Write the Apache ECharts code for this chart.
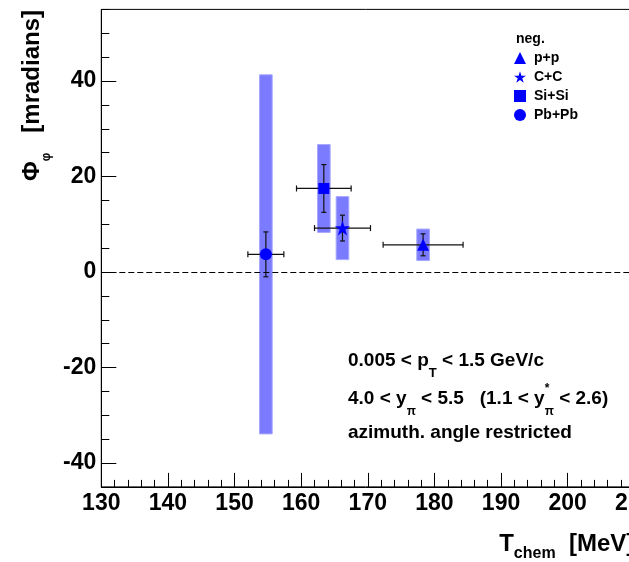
<!DOCTYPE html>
<html><head><meta charset="utf-8">
<script src="https://cdn.jsdelivr.net/npm/echarts@6/dist/echarts.min.js"></script>
<style>html,body{margin:0;padding:0;background:#fff}#c{width:629px;height:562px}</style>
</head><body><div id="c"></div>
<script>
// ---- data ----
const systems = ['p+p', 'C+C', 'Si+Si', 'Pb+Pb'];
const tchem = [178.3, 166.2, 163.4, 154.7];      // T_chem [MeV]
const tchemErr = [6.0, 4.2, 4.1, 2.7];           // horizontal error
const phi = [5.7, 9.2, 17.5, 3.7];               // Phi_phi [mrad]
const phiStat = [2.3, 2.7, 5.0, 4.7];            // statistical error
const phiSys = [3.3, 6.6, 9.2, 37.6];            // systematic error (box)
const yMajorTicks = [-40, -20, 0, 20, 40];
const legendHeader = 'neg.';
const annotations = ['0.005 < p_T < 1.5 GeV/c', '4.0 < y_π < 5.5   (1.1 < y*_π < 2.6)', 'azimuth. angle restricted'];

// ---- styles ----
const FONT = '"Liberation Sans", Arial, Helvetica, sans-serif';
const BLUE = '#0000ff';
const BOX_FILL = '#7b7bff';
const BOX_HALF_WIDTH = 0.95;
const STAR = 'path://M50,0 L61.2,34.5 L97.6,34.5 L68.2,55.9 L79.4,90.5 L50,69.1 L20.6,90.5 L31.8,55.9 L2.4,34.5 L38.8,34.5 Z';
const symbols = ['triangle', STAR, 'rect', 'circle'];
const symbolSizes = [12, 15, 11, 12];

const boxData = systems.map((s, i) => [tchem[i], phi[i], phiSys[i]]);
const errData = systems.map((s, i) => [tchem[i], phi[i], tchemErr[i], phiStat[i]]);

function renderBox(params, api) {
  const x = api.value(0), y = api.value(1), s = api.value(2);
  const p1 = api.coord([x - BOX_HALF_WIDTH, y + s]);
  const p2 = api.coord([x + BOX_HALF_WIDTH, y - s]);
  return { type: 'rect', shape: { x: p1[0], y: p1[1], width: p2[0] - p1[0], height: p2[1] - p1[1] },
    style: { fill: BOX_FILL, stroke: '#a8a8ff', lineWidth: 1 } };
}
function renderErr(params, api) {
  const x = api.value(0), y = api.value(1), ex = api.value(2), ey = api.value(3);
  const l = api.coord([x - ex, y]), r = api.coord([x + ex, y]);
  const t = api.coord([x, y + ey]), b = api.coord([x, y - ey]);
  const st = { stroke: '#111', lineWidth: 1.2 };
  const CH = 3, CV = 2.5;
  const ln = (x1, y1, x2, y2) => ({ type: 'line', shape: { x1, y1, x2, y2 }, style: st });
  return { type: 'group', children: [
    ln(l[0], l[1], r[0], r[1]),
    ln(l[0], l[1] - CH, l[0], l[1] + CH),
    ln(r[0], r[1] - CH, r[0], r[1] + CH),
    ln(t[0], t[1], b[0], b[1]),
    ln(t[0] - CV, t[1], t[0] + CV, t[1]),
    ln(b[0] - CV, b[1], b[0] + CV, b[1])
  ] };
}

const axisLineStyle = { color: '#000', width: 1 };
const labelStyle = { fontSize: 23, fontWeight: 'bold', fontFamily: FONT, color: '#000' };
const TXT = 19;

const option = {
  backgroundColor: '#fff',
  animation: false,
  title: { text: legendHeader, left: 516, top: 32, padding: 0,
    textStyle: { fontSize: 14, fontWeight: 'bold', fontFamily: FONT, color: '#000' } },
  legend: {
    orient: 'vertical', left: 514, top: 51, padding: 0,
    itemWidth: 12, itemHeight: 12, itemGap: 5, selectedMode: false,
    data: systems.map((n, i) => ({ name: n, icon: symbols[i] })),
    textStyle: { fontSize: 14, fontWeight: 'bold', fontFamily: FONT, color: '#000', lineHeight: 14, padding: [0, 0, 0, 3] }
  },
  grid: { left: 101.3, top: 9.4, right: -5.3, bottom: 75.1, containLabel: false, outerBoundsMode: 'none',
    show: true, borderColor: '#000', borderWidth: 1, backgroundColor: 'transparent' },
  xAxis: [{
    type: 'value', min: 130, max: 210, interval: 10,
    axisLine: { onZero: false, lineStyle: axisLineStyle },
    axisTick: { inside: true, length: 14, lineStyle: axisLineStyle },
    minorTick: { show: true, splitNumber: 5, length: 7, lineStyle: axisLineStyle },
    splitLine: { show: false },
    axisLabel: Object.assign({ margin: 5 }, labelStyle)
  }],
  yAxis: [{
    type: 'value', min: -45, max: 55, position: 'left',
    axisLine: { show: true, onZero: false, lineStyle: axisLineStyle },
    axisTick: { inside: true, length: 15, lineStyle: axisLineStyle, customValues: yMajorTicks },
    splitLine: { show: false },
    axisLabel: Object.assign({ margin: 5, customValues: yMajorTicks }, labelStyle)
  }, {
    type: 'value', min: -45, max: 55, interval: 5, position: 'left',
    axisLine: { show: false, onZero: false },
    axisTick: { inside: true, length: 8, lineStyle: axisLineStyle },
    splitLine: { show: false },
    axisLabel: { show: false }
  }],
  graphic: [
    { type: 'text', x: 20.3, y: 10, rotation: Math.PI / 2, style: {
      text: '{a|Φ}{b|φ}{a|   [mradians]}', align: 'right', verticalAlign: 'top', fill: '#000',
      rich: { a: { fontSize: 24, lineHeight: 26, fontWeight: 'bold', fontFamily: FONT, verticalAlign: 'top' },
              b: { fontSize: 12, lineHeight: 12, fontWeight: 'bold', fontFamily: FONT, verticalAlign: 'top', padding: [20, 0, 0, 0] } } } },
    { type: 'text', x: 634.3, y: 532.5, style: {
      text: '{a|T}{b|chem}{a|  [MeV]}', align: 'right', verticalAlign: 'top', fill: '#000',
      rich: { a: { fontSize: 24, lineHeight: 26, fontWeight: 'bold', fontFamily: FONT, verticalAlign: 'top' },
              b: { fontSize: 16, lineHeight: 16, fontWeight: 'bold', fontFamily: FONT, verticalAlign: 'top', padding: [13, 0, 0, 0] } } } },
    { type: 'text', x: 348, y: 351, style: {
      text: '{a|0.005 < p}{s|T}{a| < 1.5 GeV/c}', align: 'left', verticalAlign: 'top', fill: '#000',
      rich: { a: { fontSize: TXT, lineHeight: 22, fontWeight: 'bold', fontFamily: FONT, verticalAlign: 'top' },
              s: { fontSize: 13, lineHeight: 13, fontWeight: 'bold', fontFamily: FONT, verticalAlign: 'top', padding: [16, 0, 0, 0] } } } },
    { type: 'text', x: 348, y: 383, style: {
      text: '{a|4.0 < y}{s|π}{a| < 5.5   (1.1 < y}{u|*}{s|π}{a| < 2.6)}', align: 'left', verticalAlign: 'top', fill: '#000',
      rich: { a: { fontSize: TXT, lineHeight: 22, fontWeight: 'bold', fontFamily: FONT, verticalAlign: 'top', padding: [6, 0, 0, 0] },
              s: { fontSize: 12, lineHeight: 12, fontWeight: 'bold', fontFamily: FONT, verticalAlign: 'top', padding: [23, 0, 0, 0] },
              u: { fontSize: 12, lineHeight: 12, fontWeight: 'bold', fontFamily: FONT, verticalAlign: 'top', width: 0 } } } },
    { type: 'text', x: 348, y: 422, style: {
      text: annotations[2], align: 'left', verticalAlign: 'top', fill: '#000',
      fontSize: TXT, lineHeight: 22, fontWeight: 'bold', fontFamily: FONT } }
  ],
  series: [
    { type: 'line', name: 'zero', data: [], z: 0, silent: true,
      markLine: { silent: true, symbol: ['none', 'none'], label: { show: false },
        lineStyle: { color: '#000', type: [6, 3], width: 1 }, data: [{ yAxis: 0 }] } },
    { type: 'custom', name: 'sys', data: boxData, renderItem: renderBox, encode: { x: 0, y: 1 }, z: 1, silent: true },
    { type: 'custom', name: 'err', data: errData, renderItem: renderErr, encode: { x: 0, y: 1 }, z: 2, silent: true }
  ].concat(systems.map((s, i) => ({
    type: 'scatter', name: s, data: [[tchem[i], phi[i]]], symbol: symbols[i], symbolSize: symbolSizes[i],
    itemStyle: { color: BLUE, opacity: 1 }, z: 5
  })))
};

const chart = echarts.init(document.getElementById('c'));
chart.setOption(option);
</script>
</body></html>
